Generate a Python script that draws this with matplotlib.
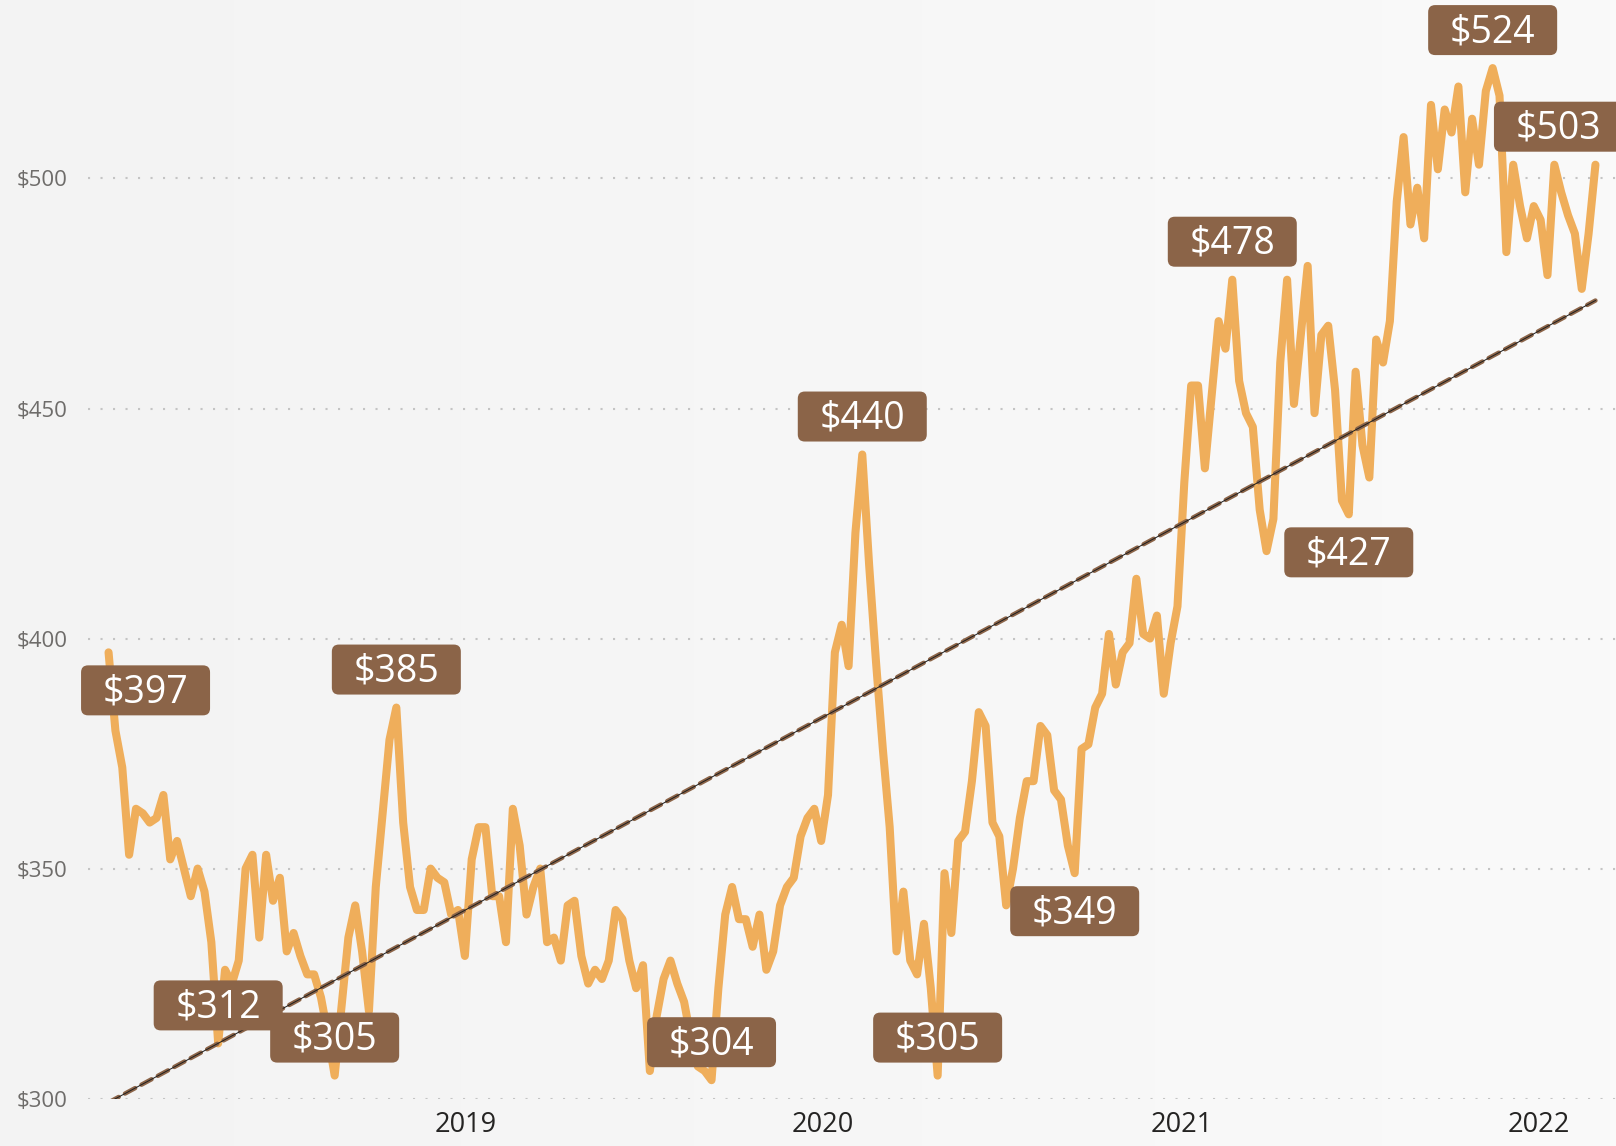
import numpy as np
import pandas as pd
import matplotlib
matplotlib.use("Agg")
import matplotlib.pyplot as plt
import matplotlib.dates as mdates
from matplotlib.colors import LinearSegmentedColormap
from matplotlib.patches import FancyBboxPatch
from matplotlib.transforms import IdentityTransform

# weekly closing price
start_date = "2018-01-01"
prices = [
    397, 380, 372, 353, 363, 362, 360, 361, 366, 352,
    356, 350, 344, 350, 345, 334, 312, 328, 325, 330,
    350, 353, 335, 353, 343, 348, 332, 336, 331, 327,
    327, 322, 314, 305, 320, 335, 342, 332, 319, 346,
    362, 378, 385, 360, 346, 341, 341, 350, 348, 347,
    340, 341, 331, 352, 359, 359, 344, 344, 334, 363,
    355, 340, 346, 350, 334, 335, 330, 342, 343, 331,
    325, 328, 326, 330, 341, 339, 330, 324, 329, 306,
    318, 326, 330, 325, 321, 313, 307, 306, 304, 324,
    340, 346, 339, 339, 333, 340, 328, 332, 342, 346,
    348, 357, 361, 363, 356, 366, 397, 403, 394, 423,
    440, 416, 395, 376, 359, 332, 345, 330, 327, 338,
    324, 305, 349, 336, 356, 358, 369, 384, 381, 360,
    357, 342, 350, 361, 369, 369, 381, 379, 367, 365,
    355, 349, 376, 377, 385, 388, 401, 390, 397, 399,
    413, 401, 400, 405, 388, 399, 407, 434, 455, 455,
    437, 453, 469, 463, 478, 456, 449, 446, 428, 419,
    426, 460, 478, 451, 466, 481, 449, 466, 468, 454,
    430, 427, 458, 442, 435, 465, 460, 469, 495, 509,
    490, 498, 487, 516, 502, 515, 510, 520, 497, 513,
    503, 519, 524, 518, 484, 503, 494, 487, 494, 491,
    479, 503, 497, 492, 488, 476, 488, 503,
]

# weeks that carry a value label
label_points = [0, 16, 33, 42, 88, 110, 121, 141, 164, 181, 202, 217]
label_below = [0, 141, 181]

y_ticks = [300, 350, 400, 450, 500]
year_ticks = ["2019-01-01", "2020-01-01", "2021-01-01", "2022-01-01"]
year_labels = ["2019", "2020", "2021", "2022"]

dates = pd.date_range(start_date, periods=len(prices), freq="7D")
x = mdates.date2num(dates)
prices = np.array(prices, dtype=float)

plt.rcParams["font.family"] = ["Open Sans", "DejaVu Sans"]

W, H = 1616, 1146
fig = plt.figure(figsize=(W / 100, H / 100), dpi=100)

# soft background
bg = fig.add_axes([0, 0, 1, 1], zorder=-10)
grad = np.linspace(0, 1, 256)[None, :]
bg_cmap = LinearSegmentedColormap.from_list("bg", ["#F3F3F3", "#FAFAFA"])
bg.imshow(grad, cmap=bg_cmap, aspect="auto", extent=[0, 1, 0, 1])
bg.axis("off")

left_px, bottom_px = 88, 47.4
ax = fig.add_axes([left_px / W, bottom_px / H, 1 - left_px / W, 1 - bottom_px / H])
ax.patch.set_alpha(0)
for s in ax.spines.values():
    s.set_visible(False)

ax.set_xlim(mdates.date2num(pd.Timestamp("2017-12-11")),
            mdates.date2num(pd.Timestamp("2022-03-21")))
ax.set_ylim(300, 538.8)

# grid + ticks
ax.set_yticks(y_ticks)
ax.set_yticklabels([f"${v}" for v in y_ticks])
ax.yaxis.grid(True, linestyle=(0, (1, 5)), color="#C4C4C4", linewidth=1.5)
ax.set_axisbelow(True)
ax.set_xticks(mdates.date2num(pd.to_datetime(year_ticks)))
ax.set_xticklabels(year_labels)
ax.tick_params(axis="y", length=0, pad=15, labelsize=16, labelcolor="#6E6C6A")
ax.tick_params(axis="x", length=0, pad=9, labelsize=19.5, labelcolor="#252423")

# price line
ax.plot(x, prices, color="#EFAE5B", linewidth=5.8, solid_joinstyle="round",
        solid_capstyle="round", zorder=3, clip_on=False)

# linear trend
coef = np.polyfit(x, prices, 1)
tx = x[[0, -1]]
ty = np.polyval(coef, tx)
ax.plot(tx, ty, color="#8B6448", linewidth=3.2, linestyle=(0, (2.6, 1.6)),
        dash_capstyle="round", zorder=4)
ax.plot(tx, ty, color="#1E1E1E", linewidth=0.7, zorder=5)

# value labels
box_w, box_h = 129, 50
for i in label_points:
    px, py = ax.transData.transform((x[i], prices[i]))
    cy = py - 38 if i in label_below else py + 38
    cx = px
    if i == 0:
        cx += 37
    elif i == len(prices) - 1:
        cx -= 37
    box = FancyBboxPatch((cx - box_w / 2, cy - box_h / 2), box_w, box_h,
                         boxstyle="round,pad=0,rounding_size=7",
                         transform=IdentityTransform(), facecolor="#8B6448",
                         edgecolor="none", zorder=10)
    fig.add_artist(box)
    fig.text(cx, cy - 2, f"${prices[i]:.0f}", transform=IdentityTransform(),
             ha="center", va="center", color="white", fontsize=27, zorder=11)

fig.savefig("out.png", dpi=100)
